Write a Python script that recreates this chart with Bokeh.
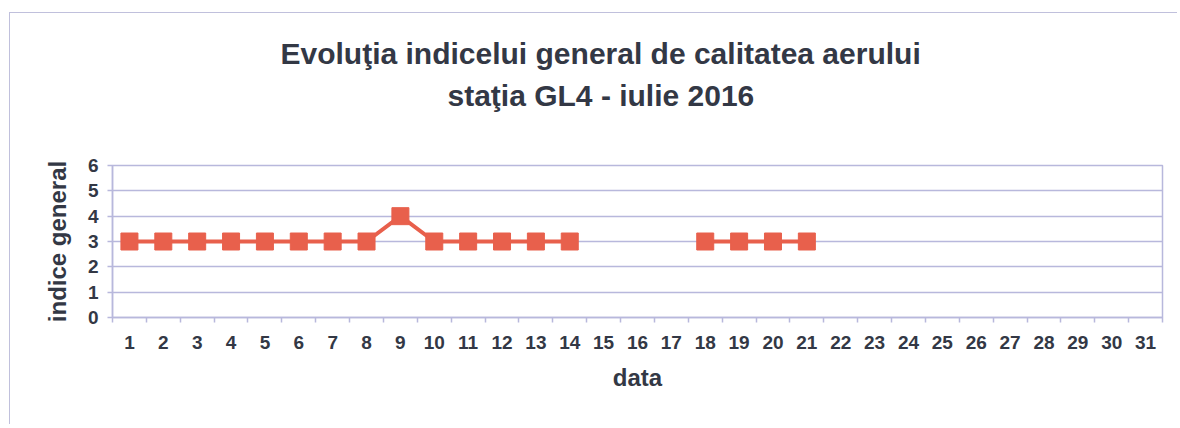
from bokeh.plotting import figure
from bokeh.models import FixedTicker, Title, Range1d
from bokeh.embed import file_html
from bokeh.resources import INLINE

days = list(range(1, 32))
day_labels = [str(d) for d in days]
values = [3, 3, 3, 3, 3, 3, 3, 3, 4, 3, 3, 3, 3, 3,
          None, None, None,
          3, 3, 3, 3,
          None, None, None, None, None, None, None, None, None, None]
y_ticks = [0, 1, 2, 3, 4, 5, 6]

title_line1 = "Evoluţia indicelui general de calitatea aerului"
title_line2 = "staţia GL4 - iulie 2016"

FONT = "Liberation Sans"
GRID = "#b8b8dc"
TXT = "#333845"
RED = "#e8604c"

p = figure(width=1168, height=412, output_backend="svg", toolbar_location=None,
           x_range=Range1d(0.5, 31.5), y_range=Range1d(0, 6),
           min_border_left=102, min_border_right=16,
           min_border_top=152, min_border_bottom=108)
p.title = None

t2 = Title(text=title_line2, align="left", offset=335, text_font=FONT,
           text_font_size="30px", text_font_style="bold", text_color=TXT,
           standoff=108)
t1 = Title(text=title_line1, align="left", offset=168, text_font=FONT,
           text_font_size="30px", text_font_style="bold", text_color=TXT,
           standoff=-94)
p.add_layout(t2, "above")
p.add_layout(t1, "above")

ys = [float("nan") if v is None else v for v in values]
p.line(days, ys, line_color=RED, line_width=4)
p.scatter([d for d, v in zip(days, values) if v is not None],
          [v for v in values if v is not None],
          marker="square", size=17, fill_color=RED, line_color=RED)

p.xaxis.ticker = FixedTicker(ticks=days, minor_ticks=[d + 0.5 for d in range(0, 32)])
p.xaxis.major_label_overrides = {d: l for d, l in zip(days, day_labels)}
p.xaxis.major_tick_line_color = None
p.xaxis.minor_tick_line_color = GRID
p.xaxis.minor_tick_out = 5
p.xaxis.minor_tick_in = 0
p.xaxis.minor_tick_line_width = 1.5
p.xaxis.axis_label = "data"

p.yaxis.ticker = FixedTicker(ticks=y_ticks, minor_ticks=[])
p.yaxis.major_tick_out = 5
p.yaxis.major_tick_in = 0
p.yaxis.major_tick_line_color = GRID
p.yaxis.major_tick_line_width = 1.5
p.yaxis.axis_label = "indice general"

for ax in (p.xaxis, p.yaxis):
    ax.axis_line_color = GRID
    ax.axis_line_width = 1.5
    ax.major_label_text_font = FONT
    ax.major_label_text_font_size = "19px"
    ax.major_label_text_font_style = "bold"
    ax.major_label_text_color = TXT
    ax.axis_label_text_font = FONT
    ax.axis_label_text_font_size = "24px"
    ax.axis_label_text_font_style = "bold"
    ax.axis_label_text_color = TXT

p.xaxis.major_label_standoff = 12
p.xaxis.axis_label_standoff = 12
p.yaxis.major_label_standoff = 9
p.yaxis.axis_label_standoff = 14

p.xgrid.grid_line_color = None
p.ygrid.grid_line_color = GRID
p.ygrid.grid_line_width = 1.5
p.outline_line_color = GRID
p.outline_line_width = 1.5
p.styles = {"border-left": "1.5px solid #c0c0dc", "border-top": "1.5px solid #c0c0dc",
            "margin-left": "9px", "margin-top": "12px"}

open("out.html", "w").write(file_html(p, INLINE))
